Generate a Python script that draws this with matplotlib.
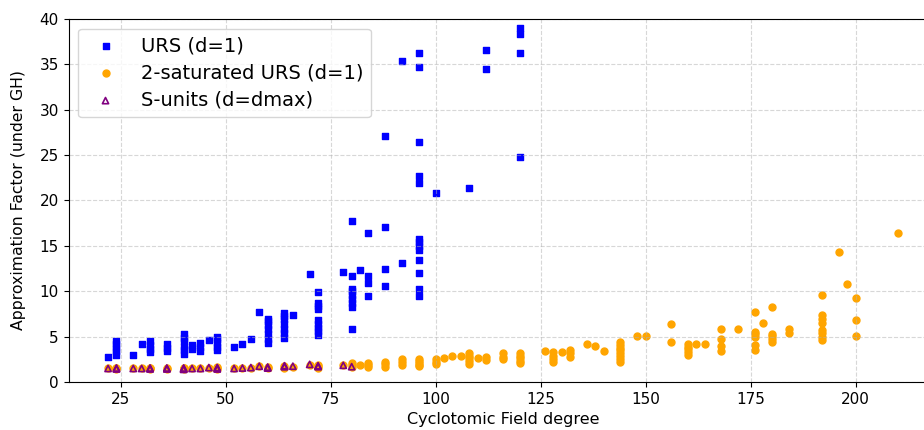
import numpy as np
import matplotlib
matplotlib.use("Agg")
import matplotlib.pyplot as plt


# -------------------
# DATA
# -------------------

# URS (d=1)
urs_deg = [22, 24, 28, 30, 32, 36, 40, 42, 44, 46, 48, 52, 54, 56, 58, 60, 64, 66,
           70, 72, 78, 80, 82, 84, 88, 92, 96, 100, 108, 112, 120]
urs_vals = [
    [2.8],
    [3.0, 3.4, 3.8, 4.2, 4.5],
    [2.95],
    [4.2],
    [3.3, 3.7, 4.1, 4.5],
    [3.4, 3.8, 4.2],
    [3.1, 3.5, 3.9, 4.5, 4.9, 5.3],
    [3.6, 4.1],
    [3.4, 3.9, 4.3],
    [4.6],
    [3.5, 3.9, 4.3, 4.7, 5.0],
    [3.85],
    [4.25],
    [4.75],
    [7.75],
    [4.3, 4.8, 5.3, 5.8, 6.3, 6.7, 7.0],
    [4.9, 5.4, 5.9, 6.4, 6.9, 7.3, 7.6],
    [7.35],
    [11.9],
    [5.2, 5.6, 6.0, 6.4, 6.8, 8.0, 8.4, 8.7, 9.9],
    [12.15],
    [5.8, 8.3, 8.7, 9.1, 9.6, 10.0, 10.3, 11.7, 17.75],
    [12.35],
    [9.5, 10.9, 11.7, 16.45],
    [10.6, 12.5, 17.1, 27.1],
    [13.1, 35.4],
    [9.5, 10.3, 12.05, 13.45, 14.6, 15.0, 15.4, 15.8, 21.95, 22.7, 26.45, 34.65, 36.2],
    [20.85],
    [21.35],
    [34.5, 36.6],
    [24.75, 36.2, 38.3, 39.05],
]

# 2-saturated URS (d=1)
sat_deg = [22, 24, 28, 30, 32, 36, 40, 42, 44, 46, 48, 52, 54, 56, 58, 60, 64, 66,
           70, 72, 78, 80, 82, 84, 88, 92, 96, 100, 102, 104, 106, 108, 110, 112,
           116, 120, 126, 128, 130, 132, 136, 138, 140, 144, 148, 150, 156, 160,
           162, 164, 168, 172, 176, 178, 180, 184, 192, 196, 198, 200, 210]
sat_vals = [
    [1.5],
    [1.4, 1.5, 1.55],
    [1.5],
    [1.5],
    [1.45, 1.55, 1.6],
    [1.4, 1.5],
    [1.4, 1.5, 1.6],
    [1.5],
    [1.5],
    [1.6],
    [1.45, 1.55, 1.65],
    [1.5],
    [1.55],
    [1.6],
    [1.75],
    [1.5, 1.7],
    [1.6, 1.8],
    [1.7],
    [1.9],
    [1.6, 1.8, 1.9],
    [1.9],
    [1.7, 1.9, 2.05],
    [1.9],
    [1.7, 1.9, 2.05],
    [1.7, 2.0, 2.25],
    [1.9, 2.2, 2.5],
    [1.75, 1.9, 2.1, 2.3, 2.5],
    [1.95, 2.2, 2.55],
    [2.7],
    [2.85],
    [2.85],
    [2.0, 2.3, 2.6, 2.9, 3.15],
    [2.7],
    [2.4, 2.8],
    [2.5, 2.8, 3.15],
    [2.1, 2.35, 2.6, 2.9, 3.2],
    [3.45],
    [2.25, 2.55, 2.9, 3.35],
    [3.35],
    [2.8, 3.15, 3.5],
    [4.25],
    [4.0],
    [3.45],
    [2.25, 2.55, 2.85, 3.15, 3.5, 3.8, 4.1, 4.45],
    [5.1],
    [5.1],
    [4.45, 6.35],
    [2.95, 3.3, 3.6, 3.9, 4.25],
    [4.2],
    [4.2],
    [3.45, 3.95, 4.75, 5.9],
    [5.9],
    [3.55, 4.05, 5.0, 5.3, 5.55, 7.75],
    [6.55],
    [4.45, 4.8, 5.1, 5.3, 8.25],
    [5.4, 5.9],
    [4.65, 5.0, 5.4, 5.75, 6.5, 7.0, 7.4, 9.55],
    [14.35],
    [10.75],
    [5.1, 6.85, 9.3],
    [16.45],
]

# S-units (d=dmax)
su_deg = [22, 24, 28, 30, 32, 36, 40, 42, 44, 46, 48, 52, 54, 56, 58, 60, 64, 66,
          70, 72, 78, 80]
su_vals = [
    [1.5],
    [1.45, 1.5, 1.55],
    [1.5],
    [1.5],
    [1.45, 1.5, 1.55],
    [1.45, 1.5, 1.55],
    [1.4, 1.45, 1.5, 1.55],
    [1.5],
    [1.5],
    [1.6],
    [1.45, 1.5, 1.55, 1.6],
    [1.5],
    [1.55],
    [1.6],
    [1.75],
    [1.55, 1.6, 1.65],
    [1.7, 1.75, 1.8],
    [1.75],
    [1.95],
    [1.7, 1.75, 1.8],
    [1.85],
    [1.7],
]


def expand(degs, vals):
    xs = np.concatenate([[d] * len(v) for d, v in zip(degs, vals)])
    ys = np.concatenate(vals)
    return xs, ys


urs_x, urs_y = expand(urs_deg, urs_vals)
sat_x, sat_y = expand(sat_deg, sat_vals)
su_x, su_y = expand(su_deg, su_vals)


# -------------------
# PLOT
# -------------------

fig = plt.figure(figsize=(9.24, 4.30), dpi=100)
ax = fig.add_axes([0.0742, 0.1114, 0.9401, 0.8447])

ax.scatter(urs_x, urs_y, marker="s", s=20, color="blue", label="URS (d=1)")
ax.scatter(sat_x, sat_y, marker="o", s=25, color="orange", label="2-saturated URS (d=1)")
ax.scatter(su_x, su_y, marker="^", s=20, facecolors="none", edgecolors="purple",
           linewidths=1.2, label="S-units (d=dmax)")

ax.set_ylim(0, 40)
ax.set_xlabel("Cyclotomic Field degree", fontsize=11.5, labelpad=4)
ax.set_ylabel("Approximation Factor (under GH)", fontsize=11.3, labelpad=10)
ax.tick_params(labelsize=11)
ax.grid(True, linestyle="--", alpha=0.5)
ax.legend(loc="upper left", fontsize=14, labelspacing=0.42)

fig.savefig("out.png", dpi=100)
